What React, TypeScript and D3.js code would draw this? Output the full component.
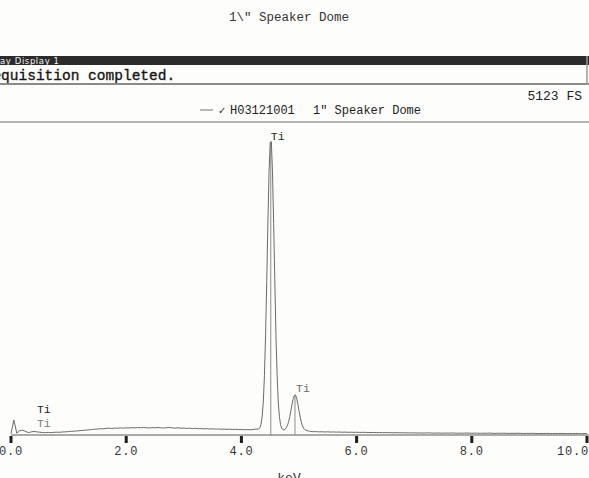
import React from "react";
import * as d3 from "d3";

// EDS spectrum of a 1" speaker dome (counts per channel)
// Channel calibration: low band 0.00–4.25 keV (0.05 step),
// peak band 4.30–5.18 keV (0.02 step), high band 5.20–10.00 keV (0.05 step)
const lowBandStart = 0.0;
const lowBandStep = 0.05;
const lowBandCounts = [
  20, 245, 30, 70, 78, 60, 40, 50, 58, 52, 45, 40, 38, 42, 40, 44, 46, 45, 50, 52,
  56, 60, 64, 66, 72, 76, 80, 84, 88, 94, 98, 104, 100, 108, 112, 106, 114, 110, 116, 112,
  118, 114, 120, 116, 122, 118, 124, 119, 115, 121, 117, 123, 118, 113, 120, 125, 116, 112, 118, 110,
  114, 108, 112, 105, 110, 103, 106, 100, 104, 98, 101, 96, 99, 94, 97, 92, 95, 90, 93, 88,
  91, 86, 89, 85, 90, 96,
];

const peakBandStart = 4.3;
const peakBandStep = 0.02;
const peakBandCounts = [
  97, 118, 172, 296, 540, 975, 1640, 2510, 3470, 4310,
  4790, 4800, 4290, 3460, 2540, 1630, 990, 540, 300, 168,
  112, 88, 80, 97, 120, 158, 218, 301, 402, 508,
  597, 648, 655, 600, 505, 398, 296, 212, 150, 112,
  90, 78, 72, 66, 60,
];

const highBandStart = 5.2;
const highBandStep = 0.05;
const highBandCounts = [
  58, 54, 56, 51, 53, 49, 52, 48, 50, 47, 49, 45, 48, 44, 46, 43,
  45, 42, 44, 43, 41, 40, 42, 39, 41, 38, 40, 39, 37, 36, 38, 35, 37, 34, 36, 33,
  35, 32, 34, 31, 33, 35, 32, 30, 33, 31, 29, 32, 30, 33, 31, 28, 31, 29, 32, 30,
  28, 31, 29, 27, 30, 28, 31, 29, 26, 29, 27, 30, 28, 25, 28, 26, 29, 27, 24, 27,
  25, 28, 26, 23, 26, 24, 27, 25, 22, 25, 23, 26, 24, 21, 24, 22, 25, 23, 20, 23,
  21,
];

// Element line markers (keV, marker height in counts)
const markerEnergies = [4.51, 4.93];
const markerCounts = [4800, 655];

// Peak labels
const labelTexts = ["Ti", "Ti", "Ti", "Ti"];
const labelEnergies = [4.51, 4.95, 0.45, 0.45];
const labelCounts = [4830, 700, 355, 125];
const labelShades = ["#2a2a2a", "#6a6a6a", "#222", "#7a7a7a"];

const xTicks = [0, 2, 4, 6, 8, 10];
const fullScale = 5123;
const title = '1\\" Speaker Dome';
const windowTitle = "ay Display 1";
const statusText = "equisition completed.";
const sampleId = "H03121001";
const sampleName = '1" Speaker Dome';
const axisLabel = "keV";

const W = 589;
const H = 478;
const mono = "'Liberation Mono', 'DejaVu Sans Mono', monospace";

type Pt = { e: number; c: number };

function band(start: number, step: number, counts: number[]): Pt[] {
  return counts.map((c, i) => ({ e: start + i * step, c }));
}

export default function App() {
  const spectrum: Pt[] = [
    ...band(lowBandStart, lowBandStep, lowBandCounts),
    ...band(peakBandStart, peakBandStep, peakBandCounts),
    ...band(highBandStart, highBandStep, highBandCounts),
  ];

  const x = d3.scaleLinear().domain([0, 10]).range([11, 587]);
  const y = d3.scaleLinear().domain([0, fullScale]).range([435, 122]);

  const line = d3
    .line<Pt>()
    .x((d) => x(d.e))
    .y((d) => y(d.c));

  const axisY = y(0);

  return (
    <svg
      width={W}
      height={H}
      viewBox={`0 0 ${W} ${H}`}
      style={{ position: "absolute", left: 0, top: 0, background: "#fff" }}
    >
      <rect x={0} y={0} width={W} height={H} fill="#fdfdfc" />

      {/* page title */}
      <text x={289} y={21} textAnchor="middle" fontFamily={mono} fontSize={12.5} fill="#333">
        {title}
      </text>

      {/* window title bar */}
      <rect x={0} y={56} width={W} height={9} fill="#2b2b2b" />
      <text x={0} y={63.5} fontFamily="'DejaVu Sans', sans-serif" fontSize={8.5} fill="#f2f2f2" letterSpacing={0.6}>
        {windowTitle}
      </text>

      {/* status row */}
      <text
        x={-7.6}
        y={80}
        fontFamily={mono}
        fontSize={14.5}
        fill="#151515"
        stroke="#151515"
        strokeWidth={0.35}
      >
        {statusText}
      </text>
      <line x1={0} x2={W} y1={84} y2={84} stroke="#8a8a8a" strokeWidth={2} />
      <line x1={587} x2={587} y1={56} y2={85} stroke="#9a9a9a" strokeWidth={1.5} />

      {/* legend row */}
      <text x={582} y={100} textAnchor="end" fontFamily={mono} fontSize={13} fill="#222">
        {`${fullScale} FS`}
      </text>
      <line x1={200} x2={213} y1={110} y2={110} stroke="#8a8a8a" strokeWidth={1.2} />
      <text x={218} y={114} fontFamily="'DejaVu Sans', sans-serif" fontSize={10} fill="#333">
        ✓
      </text>
      <text x={230} y={114} fontFamily={mono} fontSize={12} fill="#222">
        {sampleId}
      </text>
      <text x={313} y={114} fontFamily={mono} fontSize={12} fill="#222">
        {sampleName}
      </text>
      <line x1={0} x2={W} y1={122} y2={122} stroke="#9a9a9a" strokeWidth={1.5} />

      {/* element markers */}
      {markerEnergies.map((e, i) => (
        <line
          key={`m${i}`}
          x1={x(e)}
          x2={x(e)}
          y1={axisY}
          y2={y(markerCounts[i])}
          stroke="#8c8c8c"
          strokeWidth={1}
        />
      ))}

      {/* spectrum trace */}
      <path d={line(spectrum) ?? ""} fill="none" stroke="#6a6a6a" strokeWidth={1} strokeLinejoin="round" />

      {/* energy axis */}
      <line x1={x(0)} x2={W} y1={axisY} y2={axisY} stroke="#8f8f8f" strokeWidth={1.6} />
      {xTicks.map((t, i) => (
        <g key={`t${t}`}>
          <rect x={x(t) - 1.5} y={axisY + 1} width={3} height={7} fill="#1e1e1e" />
          <text
            x={i === xTicks.length - 1 ? W : x(t)}
            y={455}
            textAnchor={i === xTicks.length - 1 ? "end" : "middle"}
            fontFamily={mono}
            fontSize={12}
            letterSpacing={0.8}
            fill="#333"
          >
            {t.toFixed(1)}
          </text>
        </g>
      ))}
      <text x={289} y={482} textAnchor="middle" fontFamily={mono} fontSize={13} fill="#333">
        {axisLabel}
      </text>

      {/* peak labels */}
      {labelTexts.map((s, i) => (
        <text
          key={`l${i}`}
          x={x(labelEnergies[i])}
          y={y(labelCounts[i])}
          fontFamily={mono}
          fontSize={11.5}
          fill={labelShades[i]}
        >
          {s}
        </text>
      ))}
    </svg>
  );
}
